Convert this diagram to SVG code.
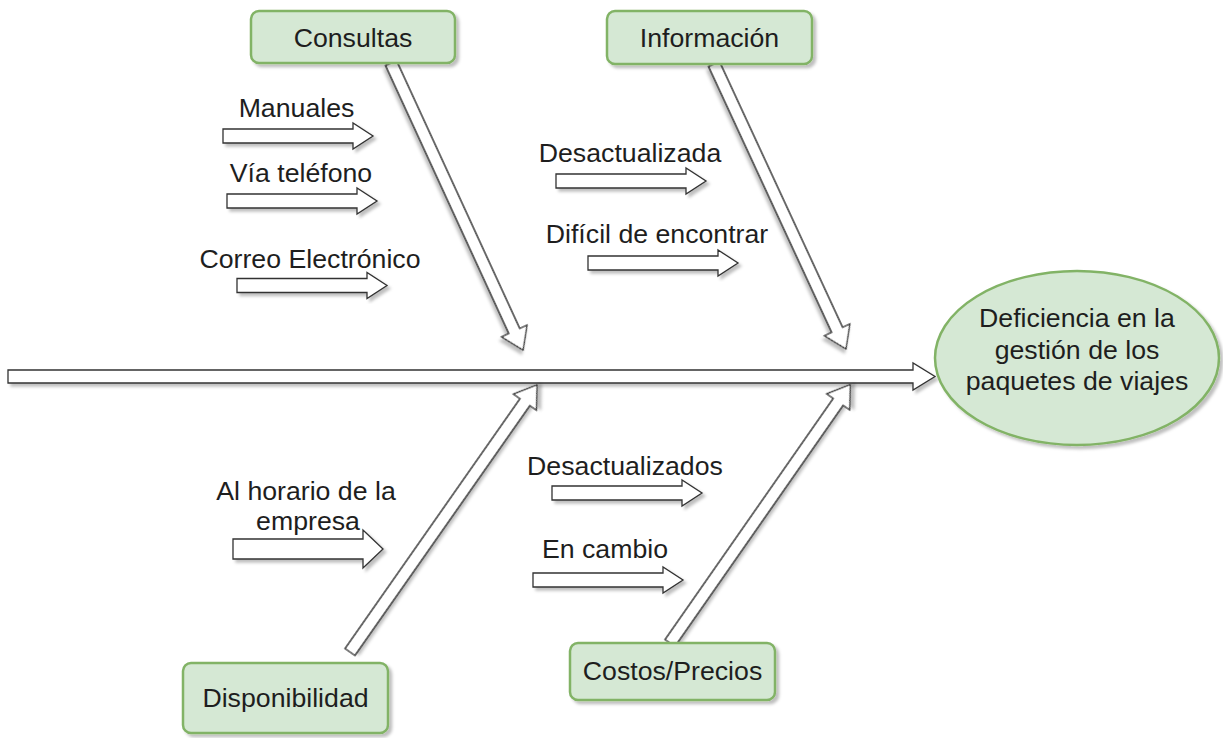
<svg xmlns="http://www.w3.org/2000/svg" width="1223" height="738" viewBox="0 0 1223 738">
<style>
.box{fill:#d5e8d4;stroke:#82b366;stroke-width:2.5}
.arr{fill:#fff;stroke:#333;stroke-width:1.3;stroke-linejoin:miter}
.t{font-family:"Liberation Sans",Arial,sans-serif;font-size:26.7px;fill:#1e1e1e;text-anchor:middle}
</style>
<defs>
<filter id="sh" x="-10%" y="-10%" width="130%" height="130%">
<feDropShadow dx="3" dy="3" stdDeviation="1.5" flood-color="#000" flood-opacity="0.25"/>
</filter>
<polygon id="small" points="0,-7 130,-7 130,-13 150,0 130,13 130,7 0,7"/>
</defs>
<rect width="1223" height="738" fill="#fff"/>
<g id="connectors">
<polygon class="arr" filter="url(#sh)" transform="translate(8,376.5)" points="0,-6.5 905,-6.5 905,-13.5 927,0 905,13.5 905,6.5 0,6.5"/>
<polygon class="arr" filter="url(#sh)" transform="translate(391,63) rotate(65.3)" points="0,-6 295,-6 295,-14 316,0 295,14 295,6 0,6"/>
<polygon class="arr" filter="url(#sh)" transform="translate(714,64) rotate(65.15)" points="0,-6 293,-6 293,-14 314,0 293,14 293,6 0,6"/>
<polygon class="arr" filter="url(#sh)" transform="translate(350,652) rotate(-55)" points="0,-6 305,-6 305,-14 326,0 305,14 305,6 0,6"/>
<polygon class="arr" filter="url(#sh)" transform="translate(670,643) rotate(-55.1)" points="0,-6 294,-6 294,-14 315,0 294,14 294,6 0,6"/>
<use href="#small" class="arr" filter="url(#sh)" x="223" y="136"/>
<use href="#small" class="arr" filter="url(#sh)" x="227" y="201"/>
<use href="#small" class="arr" filter="url(#sh)" x="237" y="285.5"/>
<use href="#small" class="arr" filter="url(#sh)" x="556" y="181"/>
<use href="#small" class="arr" filter="url(#sh)" x="588" y="263"/>
<use href="#small" class="arr" filter="url(#sh)" x="552" y="493"/>
<use href="#small" class="arr" filter="url(#sh)" x="533" y="580"/>
<polygon class="arr" filter="url(#sh)" transform="translate(233,549)" points="0,-10 130,-10 130,-19 150,0 130,19 130,10 0,10"/>
</g>
<g id="labels">
<text class="t" x="296.5" y="117">Manuales</text>
<text class="t" x="301" y="182">Vía teléfono</text>
<text class="t" x="310" y="268">Correo Electrónico</text>
<text class="t" x="630" y="162">Desactualizada</text>
<text class="t" x="657" y="243">Difícil de encontrar</text>
<text class="t" x="306" y="500">Al horario de la</text>
<text class="t" x="308" y="530">empresa</text>
<text class="t" x="625" y="475">Desactualizados</text>
<text class="t" x="605" y="558">En cambio</text>
</g>
<g id="consultas">
<rect class="box" filter="url(#sh)" x="251" y="11" width="204" height="52" rx="8"/>
<text class="t" x="353" y="47">Consultas</text>
</g>
<g id="informacion">
<rect class="box" filter="url(#sh)" x="607" y="11" width="205" height="53" rx="8"/>
<text class="t" x="709.5" y="47">Información</text>
</g>
<g id="disponibilidad">
<rect class="box" filter="url(#sh)" x="183" y="663" width="205" height="70" rx="8"/>
<text class="t" x="285.5" y="707">Disponibilidad</text>
</g>
<g id="costos">
<rect class="box" filter="url(#sh)" x="570" y="643" width="205" height="57" rx="8"/>
<text class="t" x="672.5" y="680">Costos/Precios</text>
</g>
<g id="efecto">
<ellipse class="box" filter="url(#sh)" cx="1077" cy="358" rx="142" ry="87"/>
<text class="t" x="1077" y="327">Deficiencia en la</text>
<text class="t" x="1077" y="359">gestión de los</text>
<text class="t" x="1077" y="390">paquetes de viajes</text>
</g>
</svg>
